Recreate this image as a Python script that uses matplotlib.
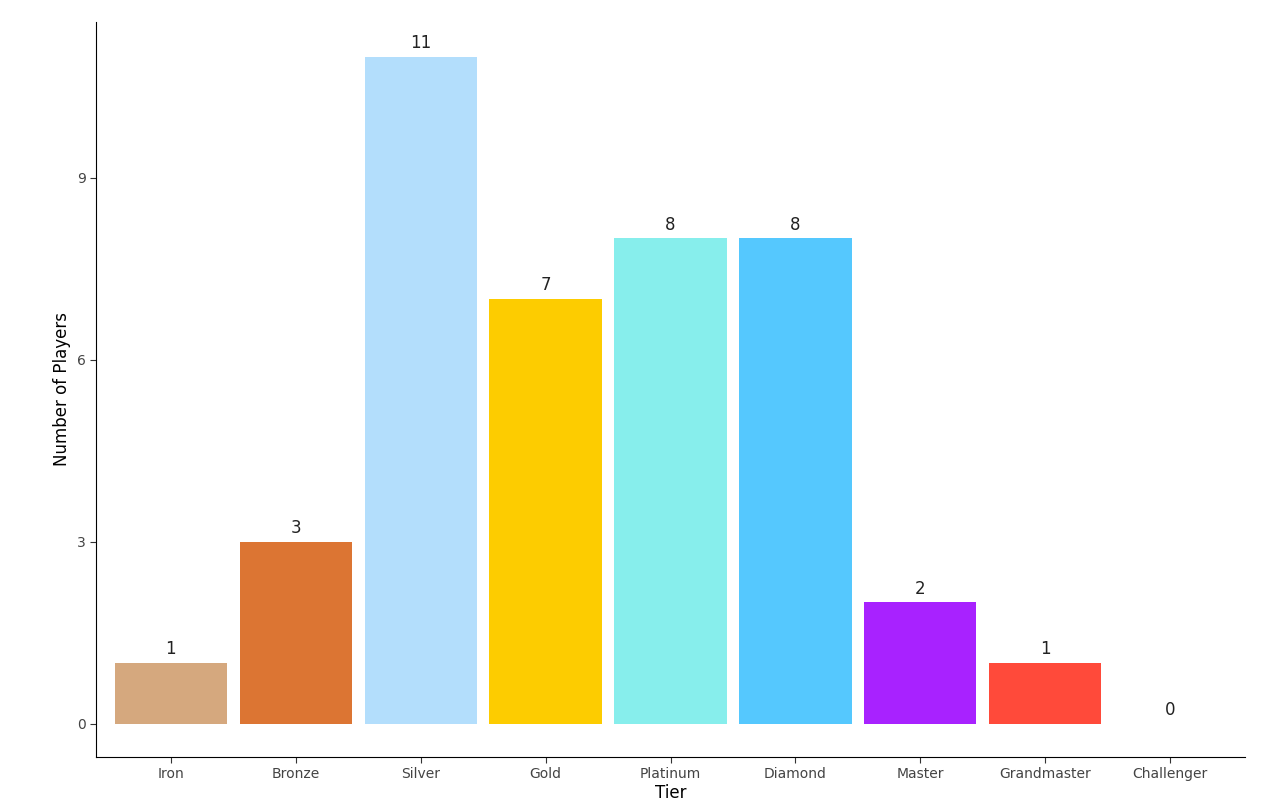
import matplotlib
matplotlib.use("Agg")
import matplotlib.pyplot as plt

tiers = ["Iron","Bronze","Silver","Gold","Platinum","Diamond","Master","Grandmaster","Challenger"]
counts = [1,3,11,7,8,8,2,1,0]
colors = ["#D5A87E","#DC7533","#B3DEFC","#FDCC00","#87EEEC","#55C8FE","#A822FF","#FF4A3A","#888888"]

fig = plt.figure(figsize=(12.73,8.07), dpi=100)
ax = fig.add_axes([96/1273, 50/807, (1245-96)/1273, (757-22)/807])
x = list(range(len(tiers)))
ax.bar(x, counts, width=0.9, color=colors)
for xi, c in zip(x, counts):
    ax.text(xi, c+0.08, str(c), ha="center", va="bottom", fontsize=12, color="#222222")
ax.set_xlim(-0.6, 8.6)
ax.set_ylim(-0.55, 11.57)
ax.set_yticks([0,3,6,9])
ax.set_xticks(x)
ax.set_xticklabels(tiers)
ax.tick_params(labelsize=10, colors="#444444", length=4)
ax.tick_params(axis="both", color="#333333")
for s in ["top","right"]:
    ax.spines[s].set_visible(False)
ax.set_xlabel("Tier", fontsize=12, labelpad=2)
ax.set_ylabel("Number of Players", fontsize=12)
fig.savefig("out.png", dpi=100)
